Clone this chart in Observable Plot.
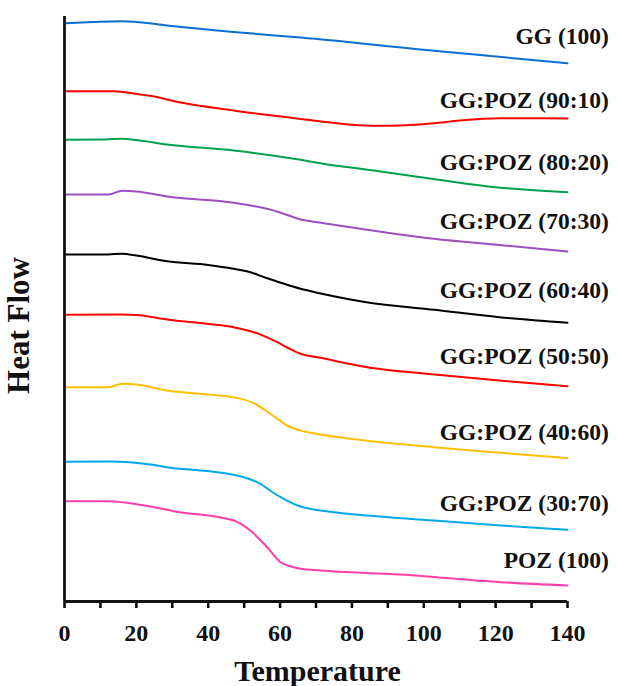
<!DOCTYPE html>
<html>
<head>
<meta charset="utf-8">
<script src="https://cdn.jsdelivr.net/npm/d3@7"></script>
<script src="https://cdn.jsdelivr.net/npm/@observablehq/plot@0.6"></script>
<style>
  html, body { margin: 0; padding: 0; background: #fff; }
  #chart { width: 617px; height: 686px; }
</style>
</head>
<body>
<div id="chart"></div>
<script>
// Temperature (x) vs. Heat Flow (arbitrary units, y)
const GG_100 = [[0,57.83],[8,57.95],[16,58.03],[20,57.95],[28.5,57.6],[47,56.95],[65.7,56.4],[102.8,55.07],[140,53.83]];
const GG_POZ_90_10 = [[0,51.03],[13.7,51.03],[20,50.75],[26.7,50.37],[28.5,50.2],[47.1,49.1],[65.7,48.25],[71.2,48.0],[80,47.68],[87,47.57],[95,47.62],[102.8,47.83],[110,48.1],[121.4,48.33],[130,48.33],[140,48.3]];
const GG_POZ_80_20 = [[0,46.17],[10,46.2],[16,46.27],[20,46.15],[28.5,45.7],[47.1,45.1],[65.7,44.17],[71.2,43.83],[88,43.0],[105.6,42.1],[120,41.43],[140,40.93]];
const GG_POZ_70_30 = [[0,40.7],[12.3,40.7],[16,41.07],[20,41.0],[28.5,40.5],[47.1,39.87],[56.4,39.27],[60,38.9],[65.7,38.2],[71,37.9],[80,37.4],[102.8,36.27],[121,35.65],[140,35.0]];
const GG_POZ_60_40 = [[0,34.7],[10,34.7],[16,34.77],[20,34.6],[28.5,34.03],[40,33.65],[47,33.27],[52,32.9],[56,32.37],[60,31.9],[65.7,31.27],[71,30.83],[84,29.93],[103,29.17],[121,28.43],[140,27.87]];
const GG_POZ_50_50 = [[0,28.67],[16,28.7],[20,28.65],[28.5,28.2],[40,27.75],[47,27.43],[52.7,26.93],[59.2,25.93],[62.5,25.3],[65.7,24.77],[71.2,24.37],[84.3,23.43],[103,22.7],[121,22.1],[140,21.53]];
const GG_POZ_40_60 = [[0,21.43],[12.3,21.43],[16,21.77],[20,21.7],[28.5,21.1],[40,20.7],[47,20.43],[52.7,19.83],[56,19.1],[59.5,18.2],[62.5,17.5],[65.7,17.1],[71.2,16.7],[79.6,16.27],[102.8,15.43],[121.4,14.87],[140,14.33]];
const GG_POZ_30_70 = [[0,13.97],[12.7,14.0],[23.9,13.7],[28.5,13.43],[47.1,12.67],[54.5,11.77],[58,10.9],[61,10.27],[65.7,9.5],[71.2,9.1],[75,8.93],[102.8,8.1],[121.4,7.6],[140,7.17]];
const POZ_100 = [[0,10.03],[12,10.03],[23.9,9.5],[30.4,9.03],[47.1,8.1],[51.7,7.1],[56.4,5.43],[60.1,3.93],[63,3.5],[65.7,3.27],[71.2,3.1],[93.5,2.7],[121.4,1.93],[140,1.6]];

const seriesNames = ["GG (100)", "GG:POZ (90:10)", "GG:POZ (80:20)", "GG:POZ (70:30)", "GG:POZ (60:40)", "GG:POZ (50:50)", "GG:POZ (40:60)", "GG:POZ (30:70)", "POZ (100)"];
const seriesData = [GG_100, GG_POZ_90_10, GG_POZ_80_20, GG_POZ_70_30, GG_POZ_60_40, GG_POZ_50_50, GG_POZ_40_60, GG_POZ_30_70, POZ_100];
const labelY = [56.5, 50.1, 43.95, 38.0, 31.1, 24.5, 16.95, 9.8, 4.1];
const xTicks = [0, 20, 40, 60, 80, 100, 120, 140];
const xMinorTicks = [10, 30, 50, 70, 90, 110, 130];

const seriesColors = ["#0a6fd1", "#ff0000", "#00a04c", "#9c4fbf", "#000000", "#ff0000", "#ffbf00", "#00a8ee", "#ff3fa8"];

const rows = seriesData.flatMap((pts, i) => pts.map(([t, h]) => ({series: seriesNames[i], t, h})));
const labels = seriesNames.map((s, i) => ({series: s, h: labelY[i]}));

const font = "'Liberation Serif', 'Times New Roman', serif";

const chart = Plot.plot({
  width: 617,
  height: 686,
  marginLeft: 64,
  marginRight: 50,
  marginTop: 16,
  marginBottom: 85,
  style: {fontFamily: font, background: "#fff"},
  x: {domain: [0, 140]},
  y: {domain: [0, 58.5], axis: null},
  color: {domain: seriesNames, range: seriesColors},
  marks: [
    Plot.lineY(rows, {x: "t", y: "h", z: "series", stroke: "series", strokeWidth: 2, curve: "monotone-x"}),
    Plot.text(labels, {x: 151.5, y: "h", text: "series", textAnchor: "end", lineAnchor: "middle", fontSize: 23.5, fontWeight: "bold", fill: "#111"}),
    Plot.axisX({ticks: xTicks, tickSize: 7, tickPadding: 15, fontSize: 24, fontWeight: "bold", strokeWidth: 2.5, label: null, fill: "#111"}),
    Plot.axisX({ticks: xMinorTicks, tickSize: 7, tickFormat: () => "", strokeWidth: 2.5, label: null}),
    Plot.ruleY([0], {strokeWidth: 2.8, stroke: "#111"}),
    Plot.ruleX([0], {strokeWidth: 2.8, stroke: "#111"}),
    Plot.text(["Temperature"], {frameAnchor: "bottom", textAnchor: "middle", lineAnchor: "middle", dx: 1.5, dy: 69.4, fontSize: 30, fontWeight: "bold", fill: "#111"}),
    Plot.text(["Heat Flow"], {frameAnchor: "left", rotate: -90, textAnchor: "middle", lineAnchor: "middle", dx: -45, dy: 16.5, fontSize: 31, fontWeight: "bold", fill: "#111"})
  ]
});
document.getElementById("chart").appendChild(chart);
</script>
</body>
</html>
